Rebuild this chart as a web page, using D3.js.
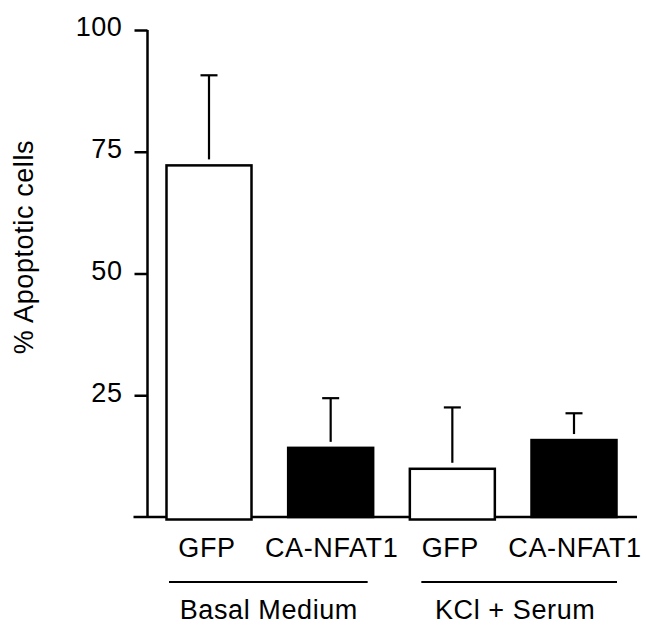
<!DOCTYPE html>
<html>
<head>
<meta charset="utf-8">
<script src="https://cdn.jsdelivr.net/npm/d3@7"></script>
<style>
    body { margin: 0; background: white; }
    text { font-family: "Liberation Sans", Arial, sans-serif; fill: #000; }
</style>
</head>
<body>
<div id="chart"></div>
<script>
"use strict";

// Values (% apoptotic cells, mean and error)
var categories = ["GFP", "CA-NFAT1", "GFP", "CA-NFAT1"];
var means = [72.2, 14.2, 9.9, 15.8];
var errors = [18.5, 10.2, 12.6, 5.5];
var groups = ["Basal Medium", "KCl + Serum"];
var group_members = [[0, 1], [2, 3]];
var y_ticks = [25, 50, 75, 100];

var width = 646;
var height = 625;

var BAR_WIDTH = 85;
var CAP_WIDTH = 17;
var FONT_SIZE = 27;

var svg = d3.select("#chart").append("svg")
    .attr("width", width)
    .attr("height", height);

svg.append("rect")
    .attr("width", width)
    .attr("height", height)
    .attr("fill", "white");

// Scales: bar centres along x, percentages along y
var x_scale = d3.scalePoint()
    .domain(d3.range(categories.length))
    .range([209, 574]);

var y_scale = d3.scaleLinear()
    .domain([0, 100])
    .range([517, 30]);

var axis_x = 147.5;

// Y axis with outward ticks
var y_axis = d3.axisLeft(y_scale)
    .tickValues(y_ticks)
    .tickSize(13)
    .tickPadding(12)
    .tickSizeOuter(0);

var y_axis_g = svg.append("g")
    .attr("class", "y_axis")
    .attr("transform", "translate(" + axis_x + ", 0)")
    .call(y_axis);

y_axis_g.select(".domain")
    .attr("stroke", "#000")
    .attr("stroke-width", 2.5)
    .attr("d", "M0," + y_scale(100) + "V" + y_scale(0));

y_axis_g.selectAll(".tick line")
    .attr("stroke", "#000")
    .attr("stroke-width", 2.5);

y_axis_g.selectAll(".tick text")
    .attr("font-size", FONT_SIZE)
    .attr("font-family", "Liberation Sans, Arial, sans-serif")
    .attr("letter-spacing", 0.6)
    .attr("dy", "0.22em");

// Baseline, reaching a little left of the axis like a zero tick
svg.append("line")
    .attr("x1", axis_x - 14)
    .attr("x2", 637)
    .attr("y1", y_scale(0))
    .attr("y2", y_scale(0))
    .attr("stroke", "#000")
    .attr("stroke-width", 2.5);

// Error bars (upper only), stopping just short of the bar top
var err = svg.append("g").attr("class", "errors");

err.selectAll("line.stem")
    .data(means)
    .enter()
    .append("line")
    .attr("class", "stem")
    .attr("x1", function (d, i) { return x_scale(i); })
    .attr("x2", function (d, i) { return x_scale(i); })
    .attr("y1", function (d, i) { return y_scale(d + errors[i]); })
    .attr("y2", function (d) { return y_scale(d) - 6; })
    .attr("stroke", "#000")
    .attr("stroke-width", 2.2);

err.selectAll("line.cap")
    .data(means)
    .enter()
    .append("line")
    .attr("class", "cap")
    .attr("x1", function (d, i) { return x_scale(i) - CAP_WIDTH / 2; })
    .attr("x2", function (d, i) { return x_scale(i) + CAP_WIDTH / 2; })
    .attr("y1", function (d, i) { return y_scale(d + errors[i]); })
    .attr("y2", function (d, i) { return y_scale(d + errors[i]); })
    .attr("stroke", "#000")
    .attr("stroke-width", 2.2);

// Bars: GFP open, CA-NFAT1 filled
svg.append("g")
    .attr("class", "bars")
    .selectAll("rect")
    .data(means)
    .enter()
    .append("rect")
    .attr("x", function (d, i) { return x_scale(i) - BAR_WIDTH / 2; })
    .attr("width", BAR_WIDTH)
    .attr("y", function (d) { return y_scale(d); })
    .attr("height", function (d, i) {
        // open bars sit with their lower edge just under the baseline
        var drop = categories[i] === "GFP" ? 2.5 : 0;
        return y_scale(0) - y_scale(d) + drop;
    })
    .attr("fill", function (d, i) { return categories[i] === "GFP" ? "white" : "black"; })
    .attr("stroke", "#000")
    .attr("stroke-width", 2.5);

// Category labels under each bar
svg.append("g")
    .selectAll("text")
    .data(categories)
    .enter()
    .append("text")
    .attr("x", function (d, i) { return x_scale(i) + (i === 0 ? -2 : i === 2 ? -2 : 1); })
    .attr("y", 557)
    .attr("text-anchor", "middle")
    .attr("font-size", FONT_SIZE)
    .attr("letter-spacing", 0.6)
    .text(function (d) { return d; });

// Group underlines and labels
var group_g = svg.append("g")
    .selectAll("g")
    .data(groups)
    .enter()
    .append("g");

group_g.append("line")
    .attr("x1", function (d, i) { return x_scale(group_members[i][0]) - (i === 0 ? 40 : 31); })
    .attr("x2", function (d, i) { return x_scale(group_members[i][1]) + (i === 0 ? 37 : 43); })
    .attr("y1", 582)
    .attr("y2", 582)
    .attr("stroke", "#000")
    .attr("stroke-width", 2);

group_g.append("text")
    .attr("x", function (d, i) {
        var m = group_members[i];
        return (x_scale(m[0]) + x_scale(m[1])) / 2 + (i === 0 ? -1 : 2);
    })
    .attr("y", 619)
    .attr("text-anchor", "middle")
    .attr("font-size", FONT_SIZE)
    .attr("letter-spacing", 0.6)
    .text(function (d) { return d; });

// Y axis title
svg.append("text")
    .attr("transform", "translate(33, 247) rotate(-90)")
    .attr("text-anchor", "middle")
    .attr("font-size", FONT_SIZE)
    .attr("letter-spacing", 0.6)
    .text("% Apoptotic cells");
</script>
</body>
</html>
